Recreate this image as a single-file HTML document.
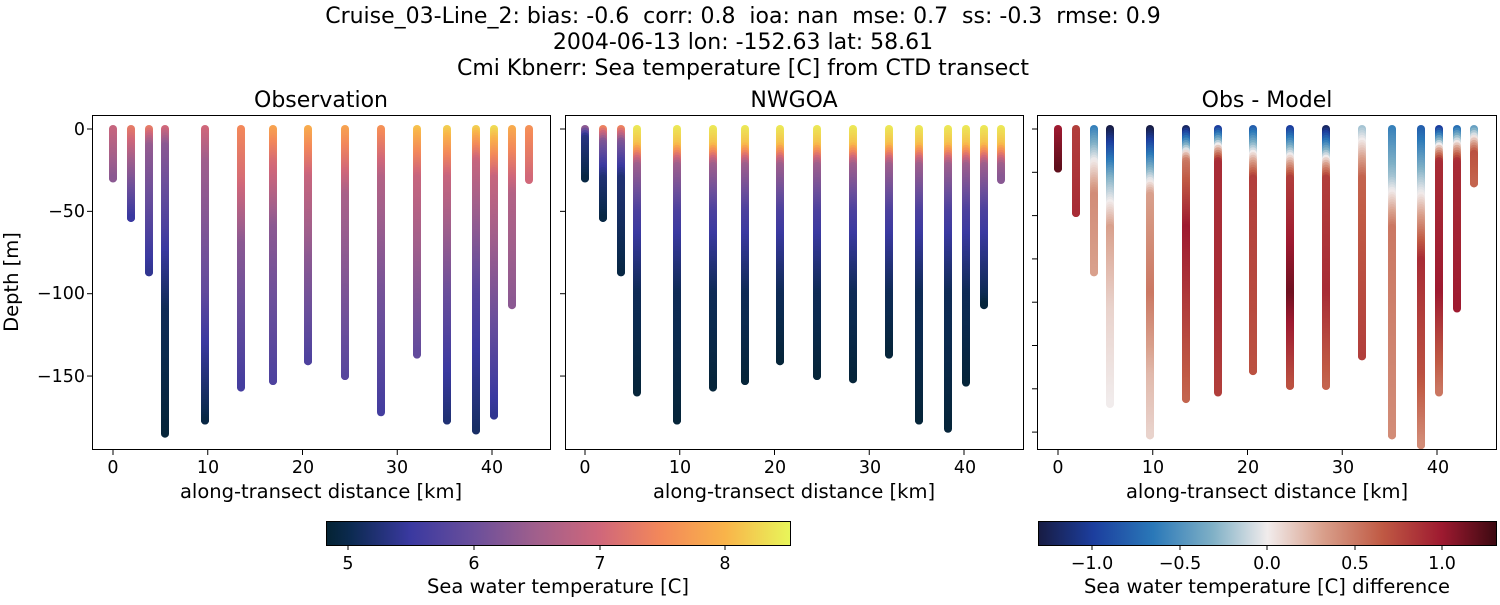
<!DOCTYPE html>
<html><head><meta charset="utf-8"><style>
body{margin:0;background:#fff;width:1500px;height:600px;overflow:hidden}
svg text{font-family:"DejaVu Sans","Liberation Sans",sans-serif;fill:#000;white-space:pre}
</style></head><body>
<svg id="s" width="1500" height="600" xmlns="http://www.w3.org/2000/svg">
<defs>
<linearGradient id="cb1" x1="0" x2="1" y1="0" y2="0">
<stop offset="0" stop-color="#042333"/><stop offset="0.05" stop-color="#0b2a4f"/><stop offset="0.18" stop-color="#3a39a0"/><stop offset="0.32" stop-color="#6b4f9b"/><stop offset="0.45" stop-color="#a05f8c"/><stop offset="0.59" stop-color="#d0677a"/><stop offset="0.72" stop-color="#f3885a"/><stop offset="0.86" stop-color="#f9b44a"/><stop offset="1" stop-color="#e8f65a"/>
</linearGradient>
<linearGradient id="cb2" x1="0" x2="1" y1="0" y2="0">
<stop offset="0" stop-color="#181c43"/><stop offset="0.12" stop-color="#1c3e9e"/><stop offset="0.25" stop-color="#2a78b8"/><stop offset="0.38" stop-color="#7fb0c6"/><stop offset="0.5" stop-color="#f1ecec"/><stop offset="0.62" stop-color="#d9a08c"/><stop offset="0.75" stop-color="#c05a44"/><stop offset="0.88" stop-color="#9e1a30"/><stop offset="1" stop-color="#3c0911"/>
</linearGradient>
</defs>
<g font-size="22" text-anchor="middle">
<text x="743" y="23">Cruise_03-Line_2: bias: -0.6  corr: 0.8  ioa: nan  mse: 0.7  ss: -0.3  rmse: 0.9</text>
<text x="743" y="49">2004-06-13 lon: -152.63 lat: 58.61</text>
<text x="743" y="75">Cmi Kbnerr: Sea temperature [C] from CTD transect</text>
<text x="321" y="107">Observation</text>
<text x="794" y="107">NWGOA</text>
<text x="1267" y="107">Obs - Model</text>
</g>
<g id="bars"></g>
<g fill="none" stroke="#000" stroke-width="1">
<rect x="92.5" y="115.5" width="458" height="334"/>
<rect x="565.5" y="115.5" width="458" height="334"/>
<rect x="1037.5" y="115.5" width="459" height="334"/>
</g>
<g id="ticks" stroke="#000"></g>
<g font-size="17.5" text-anchor="end">
<text x="85" y="135">0</text><text x="85" y="217">−50</text><text x="85" y="299">−100</text><text x="85" y="382">−150</text>
</g>
<g font-size="17.5" text-anchor="middle">
<text x="113" y="473">0</text><text x="208" y="473">10</text><text x="303" y="473">20</text><text x="397" y="473">30</text><text x="492" y="473">40</text>
<text x="585" y="473">0</text><text x="680" y="473">10</text><text x="775" y="473">20</text><text x="870" y="473">30</text><text x="965" y="473">40</text>
<text x="1058" y="473">0</text><text x="1153" y="473">10</text><text x="1248" y="473">20</text><text x="1343" y="473">30</text><text x="1438" y="473">40</text>
</g>
<g font-size="19.5" text-anchor="middle">
<text x="321" y="498">along-transect distance [km]</text>
<text x="794" y="498">along-transect distance [km]</text>
<text x="1267" y="498">along-transect distance [km]</text>
<text transform="translate(18,282) rotate(-90)">Depth [m]</text>
</g>
<rect x="326.5" y="521.5" width="464" height="24" fill="url(#cb1)" stroke="#000"/>
<rect x="1038.5" y="521.5" width="458" height="24" fill="url(#cb2)" stroke="#000"/>
<g stroke="#000">
<line x1="348" x2="348" y1="546" y2="550"/><line x1="474" x2="474" y1="546" y2="550"/><line x1="600" x2="600" y1="546" y2="550"/><line x1="725" x2="725" y1="546" y2="550"/>
<line x1="1092" x2="1092" y1="546" y2="550"/><line x1="1180" x2="1180" y1="546" y2="550"/><line x1="1267" x2="1267" y1="546" y2="550"/><line x1="1355" x2="1355" y1="546" y2="550"/><line x1="1442" x2="1442" y1="546" y2="550"/>
</g>
<g font-size="17.5" text-anchor="middle">
<text x="348" y="569">5</text><text x="474" y="569">6</text><text x="600" y="569">7</text><text x="725" y="569">8</text>
<text x="1092" y="569">−1.0</text><text x="1180" y="569">−0.5</text><text x="1267" y="569">0.0</text><text x="1355" y="569">0.5</text><text x="1442" y="569">1.0</text>
</g>
<g font-size="19.5" text-anchor="middle">
<text x="558" y="593">Sea water temperature [C]</text>
<text x="1267" y="593">Sea water temperature [C] difference</text>
</g>
</svg>
<script>
const NS="http://www.w3.org/2000/svg";
const off=[0,18,36,52,92,128,160,195,232,268,304,334,363,381,399,416];
const th=[[4.82,[4,35,51]],[4.95,[11,42,79]],[5.5,[58,57,160]],[6.0,[107,79,155]],[6.5,[160,95,140]],[7.0,[208,103,122]],[7.5,[243,136,90]],[8.0,[249,180,74]],[8.52,[232,246,90]]];
const bal=[[-1.31,[24,28,67]],[-1.0,[28,62,158]],[-0.65,[42,120,184]],[-0.3,[127,176,198]],[0,[241,236,236]],[0.3,[217,160,140]],[0.65,[192,90,68]],[1.0,[158,26,48]],[1.31,[60,9,17]]];
function cm(m,v){if(v<=m[0][0])return m[0][1];for(let i=1;i<m.length;i++){if(v<=m[i][0]){const t=(v-m[i-1][0])/(m[i][0]-m[i-1][0]);return m[i-1][1].map((a,k)=>Math.round(a+(m[i][1][k]-a)*t));}}return m[m.length-1][1];}
function interp(p,d){if(d<=p[0][0])return p[0][1];for(let i=1;i<p.length;i++){if(d<=p[i][0]){const t=(d-p[i-1][0])/(p[i][0]-p[i-1][0]);return p[i-1][1]+(p[i][1]-p[i-1][1])*t;}}return p[p.length-1][1];}
const obs=[[[0,6.9],[30,6.3]],[[0,7.3],[20,6.5],[54,5.5]],[[0,7.3],[10,6.4],[87,5.4]],[[0,7.0],[10,6.3],[60,5.7],[110,5.0],[185,4.85]],[[0,7.0],[20,6.5],[100,5.9],[177,4.9]],[[0,7.5],[30,7.1],[70,6.3],[157,5.6]],[[0,7.8],[20,7.1],[60,6.3],[153,5.7]],[[0,7.9],[30,6.9],[80,6.3],[141,5.7]],[[0,7.8],[40,6.6],[150,5.8]],[[0,7.6],[30,6.7],[100,6.1],[172,5.6]],[[0,8.1],[30,6.9],[137,5.9]],[[0,8.2],[30,6.9],[100,6.0],[177,5.2]],[[0,8.2],[20,6.9],[100,5.8],[183,5.1]],[[0,8.3],[30,6.9],[174,5.4]],[[0,7.9],[40,6.7],[107,6.3]],[[0,7.6],[31,7.0]]];
const od=[30,54,87,185,177,157,153,141,150,172,137,177,183,174,107,31];
const md=[30,54,87,160,177,157,153,141,150,152,137,177,182,154,107,31];
function mod(i,D){if(i==0)return [[0,6.3],[5,5.3],[30,4.9]];if(i<3)return [[0,7.4],[8,6.2],[30,5.2],[D,4.9]];return [[0,8.4],[10,8.1],[22,6.5],[50,5.7],[100,5.0],[D,4.85]];}
const dd=[24,51,87,167,186,164,160,147,156,156,138,186,192,160,109,33];
const dif=[[[0,1.0],[24,1.2]],[[0,0.8],[51,0.9]],[[0,-0.6],[20,0],[40,0.4],[87,0.3]],[[0,-1.3],[30,-0.3],[60,0.3],[110,0.1],[167,0]],[[0,-1.3],[20,-0.5],[40,0.3],[100,0.5],[150,0.2],[186,0.1]],[[0,-1.2],[20,0.5],[60,1.0],[164,0.6]],[[0,-1.0],[20,0.9],[100,0.9],[160,0.8]],[[0,-0.8],[30,0.8],[147,0.7]],[[0,-1.0],[30,0.8],[100,1.15],[156,0.7]],[[0,-1.2],[30,0.8],[100,0.9],[156,0.6]],[[0,-0.2],[30,0.6],[138,0.8]],[[0,-0.6],[30,-0.2],[60,0.5],[186,0.4]],[[0,-0.8],[40,0],[80,0.9],[150,0.7],[192,0.4]],[[0,-1.0],[20,0.9],[100,1.0],[160,0.5]],[[0,-0.7],[20,0.9],[109,1.0]],[[0,-0.4],[15,0.7],[33,0.6]]];
const g=document.getElementById("bars");
const Y=d=>129+d*1.647;
function bar(x,D,prof,m){for(let d=0;d<=D;d+=1.5){const c=cm(m,interp(prof,d));const l=document.createElementNS(NS,"line");l.setAttribute("x1",x);l.setAttribute("x2",x);l.setAttribute("y1",Y(d));l.setAttribute("y2",Y(Math.min(d+1.5,D)));l.setAttribute("stroke","rgb("+c+")");l.setAttribute("stroke-width","8");l.setAttribute("stroke-linecap","round");g.appendChild(l);}}
for(let i=0;i<16;i++){bar(113+off[i],od[i],obs[i],th);bar(585+off[i],md[i],mod(i,md[i]),th);bar(1058+off[i],dd[i],dif[i],bal);}
const t=document.getElementById("ticks");
function L(a,b,c,d){const l=document.createElementNS(NS,"line");l.setAttribute("x1",a);l.setAttribute("y1",b);l.setAttribute("x2",c);l.setAttribute("y2",d);t.appendChild(l);}
[113,585,1058].forEach(o=>{for(let k=0;k<5;k++){const x=o+k*94.75;L(x,450,x,455);}});
[92,565].forEach(o=>{[0,-50,-100,-150].forEach(v=>{const y=129-v*1.647;L(o-5,y,o,y);});});
for(let k=0;k<8;k++){const y=129+k*43.3;L(1032,y,1037,y);}
</script>
</body></html>
